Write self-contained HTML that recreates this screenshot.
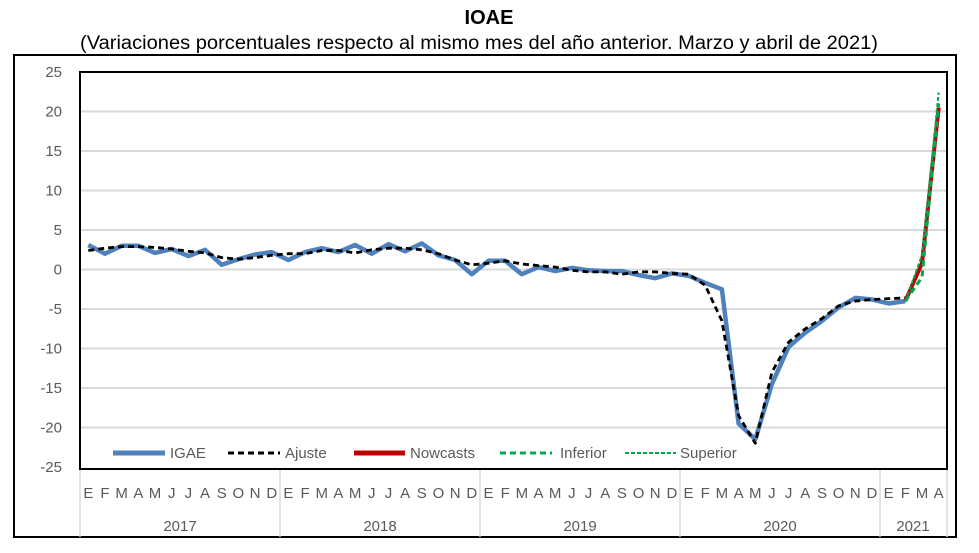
<!DOCTYPE html>
<html><head><meta charset="utf-8"><style>
body{margin:0;background:#fff;}
svg{display:block;font-family:"Liberation Sans",sans-serif;}
</style></head><body>
<svg id="s" width="979" height="553" xmlns="http://www.w3.org/2000/svg">
<text x="489" y="24" text-anchor="middle" font-size="20" font-weight="bold">IOAE</text>
<text x="80" y="49" font-size="19" textLength="798" lengthAdjust="spacingAndGlyphs">(Variaciones porcentuales respecto al mismo mes del año anterior. Marzo y abril de 2021)</text>
<rect x="14" y="55" width="942" height="482" fill="none" stroke="#000" stroke-width="2"/>
<g id="grid" stroke="#d9d9d9" stroke-width="2"></g>
<g id="ylab" font-size="15" fill="#595959" text-anchor="end"></g>
<g id="xax" stroke="#d9d9d9" stroke-width="1.5"></g>
<g id="mlab" font-size="15" fill="#595959" text-anchor="middle"></g>
<g id="series" fill="none" stroke-linejoin="round"></g>
<rect x="80" y="72" width="867" height="397" fill="none" stroke="#000" stroke-width="2"/>
<g font-size="15" fill="#595959">
<line x1="113" y1="453" x2="165" y2="453" stroke="#4f81bd" stroke-width="5"/><text x="170" y="458">IGAE</text>
<line x1="228" y1="453" x2="280" y2="453" stroke="#000" stroke-width="3" stroke-dasharray="6,4"/><text x="285" y="458">Ajuste</text>
<line x1="354" y1="453" x2="405" y2="453" stroke="#c00000" stroke-width="5"/><text x="410" y="458">Nowcasts</text>
<line x1="500" y1="453" x2="552" y2="453" stroke="#00a651" stroke-width="3" stroke-dasharray="6,4"/><text x="560" y="458">Inferior</text>
<line x1="625" y1="453" x2="676" y2="453" stroke="#00a651" stroke-width="2" stroke-dasharray="4,2"/><text x="680" y="458">Superior</text>
</g>
</svg>
<script>
const NS="http://www.w3.org/2000/svg";
function el(p,t,a,txt){const e=document.createElementNS(NS,t);for(const k in a)e.setAttribute(k,a[k]);if(txt!==undefined)e.textContent=txt;document.getElementById(p).appendChild(e);}
const Y=v=>269.5-v*7.9, W=867/52, X=i=>80+(i+0.5)*W;
for(let v=-20;v<=20;v+=5){el("grid","line",{x1:80,x2:947,y1:Y(v),y2:Y(v)});}
for(let v=-25;v<=25;v+=5){el("ylab","text",{x:62,y:Y(v)+5},String(v));}
[80,280,480,680,880,947].forEach(x=>el("xax","line",{x1:x,x2:x,y1:469,y2:537}));
const m="EFMAMJJASOND";
for(let i=0;i<52;i++)el("mlab","text",{x:X(i),y:498},m[i%12]);
[["2017",180],["2018",380],["2019",580],["2020",780],["2021",913]].forEach(a=>el("mlab","text",{x:a[1],y:531},a[0]));
const ig=[3.1,2.0,3.0,3.0,2.1,2.6,1.7,2.5,0.6,1.3,1.9,2.2,1.2,2.2,2.7,2.2,3.1,2.0,3.2,2.3,3.3,1.8,1.2,-0.6,1.1,1.1,-0.6,0.3,-0.2,0.2,-0.1,-0.2,-0.2,-0.7,-1.1,-0.5,-0.8,-1.7,-2.5,-19.5,-21.5,-14.5,-9.8,-8.0,-6.5,-4.8,-3.6,-3.8,-4.3,-4.0];
const aj=[2.4,2.7,2.9,2.9,2.8,2.6,2.3,2.1,1.5,1.3,1.5,1.8,2.0,2.0,2.4,2.4,2.1,2.5,2.7,2.7,2.5,2.0,1.2,0.6,0.8,1.1,0.7,0.5,0.3,-0.1,-0.3,-0.3,-0.6,-0.3,-0.3,-0.5,-0.6,-2.0,-6.5,-18.5,-22,-13,-9.2,-7.5,-6.2,-4.6,-4.0,-3.8,-3.7,-3.6];
const pts=(a,o)=>a.map((v,i)=>X(i+o).toFixed(1)+","+Y(v).toFixed(1)).join(" ");
el("series","polyline",{points:pts(ig,0),stroke:"#4f81bd","stroke-width":4.5});
el("series","polyline",{points:pts(aj,0),stroke:"#000","stroke-width":2.8,"stroke-dasharray":"6,4"});
el("series","polyline",{points:pts([-4.0,0.8,20.5],49),stroke:"#c00000","stroke-width":4});
el("series","polyline",{points:pts([-4.0,-1.0,21.0],49),stroke:"#00a651","stroke-width":3,"stroke-dasharray":"6,4"});
el("series","polyline",{points:pts([-4.0,1.8,22.4],49),stroke:"#00a651","stroke-width":2,"stroke-dasharray":"4,2"});
</script>
</body></html>
